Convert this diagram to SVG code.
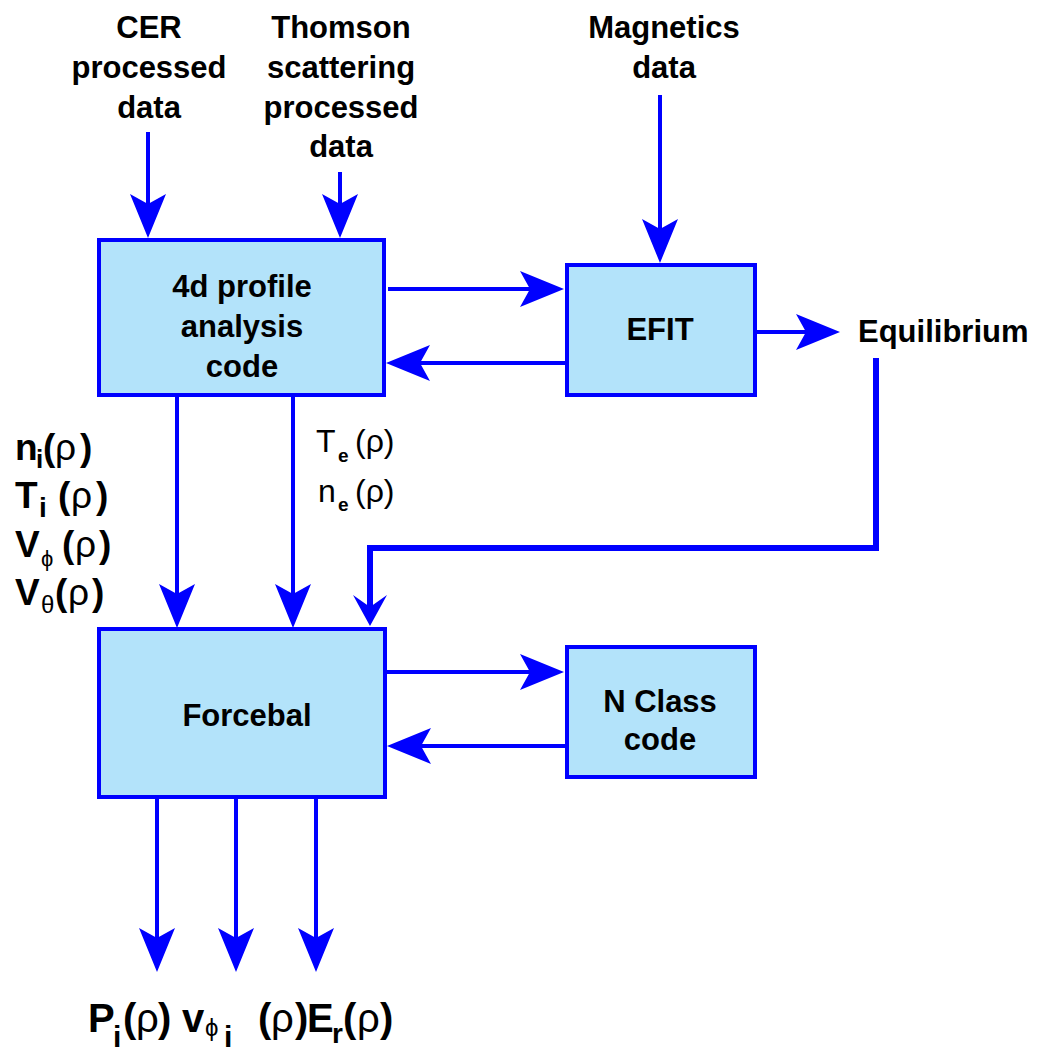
<svg xmlns="http://www.w3.org/2000/svg" width="1045" height="1055" viewBox="0 0 1045 1055">
  <style>
    .box { fill: #B3E3FA; stroke: #0000FF; stroke-width: 4; }
    .t { font-family: "Liberation Sans", Arial, sans-serif; font-weight: bold; font-size: 31px; fill: #000; text-anchor: middle; }
    .lbl { font-family: "Liberation Sans", Arial, sans-serif; font-weight: bold; fill: #000; }
    .thin { font-family: "Liberation Sans", Arial, sans-serif; font-weight: normal; font-size: 32px; fill: #000; }
    .g { font-weight: normal; }
    .wire { stroke: #0000FF; stroke-width: 4; fill: none; }
    .wire-heavy { stroke: #0000FF; stroke-width: 6; fill: none; }
  </style>
  <defs>
    <!-- barbed arrowhead: tip sits 20px beyond the end of the line -->
    <marker id="ah" markerUnits="userSpaceOnUse" viewBox="-26 -20 48 40" markerWidth="48" markerHeight="40" refX="0" refY="0" orient="auto">
      <path d="M20,0 L-24,-18 L-14,0 L-24,18 Z" fill="#0000FF"/>
    </marker>
    <!-- narrower chevron head for the equilibrium feed -->
    <marker id="ah2" markerUnits="userSpaceOnUse" viewBox="-18 -20 36 40" markerWidth="36" markerHeight="40" refX="0" refY="0" orient="auto">
      <path d="M16,0 L-15,-17 L-3,0 L-15,17 Z" fill="#0000FF"/>
    </marker>
  </defs>

  <rect width="1045" height="1055" fill="#FFFFFF"/>

  <!-- data sources -->
  <g id="cer-data">
    <text class="t" x="149" y="38">CER</text>
    <text class="t" x="149" y="78">processed</text>
    <text class="t" x="149" y="118">data</text>
  </g>
  <g id="thomson-data">
    <text class="t" x="341" y="38">Thomson</text>
    <text class="t" x="341" y="78">scattering</text>
    <text class="t" x="341" y="118">processed</text>
    <text class="t" x="341" y="157">data</text>
  </g>
  <g id="magnetics-data">
    <text class="t" x="664" y="38">Magnetics</text>
    <text class="t" x="664" y="78">data</text>
  </g>

  <!-- processing blocks -->
  <g id="profile-code">
    <rect class="box" x="99" y="240" width="285" height="155"/>
    <text class="t" x="242" y="297">4d profile</text>
    <text class="t" x="242" y="337">analysis</text>
    <text class="t" x="242" y="377">code</text>
  </g>
  <g id="efit">
    <rect class="box" x="567" y="265" width="188" height="130"/>
    <text class="t" x="660" y="340">EFIT</text>
  </g>
  <g id="equilibrium">
    <text class="lbl" x="858" y="342" font-size="31">Equilibrium</text>
  </g>
  <g id="forcebal">
    <rect class="box" x="99" y="629" width="286" height="168"/>
    <text class="t" x="247" y="726">Forcebal</text>
  </g>
  <g id="nclass">
    <rect class="box" x="567" y="647" width="188" height="130"/>
    <text class="t" x="660" y="712">N Class</text>
    <text class="t" x="660" y="750">code</text>
  </g>

  <!-- connectors -->
  <g id="connectors">
    <line class="wire" x1="148" y1="132" x2="148" y2="218" marker-end="url(#ah)"/>
    <line class="wire" x1="340" y1="172" x2="340" y2="218" marker-end="url(#ah)"/>
    <line class="wire" x1="660" y1="95" x2="660" y2="243" marker-end="url(#ah)"/>
    <line class="wire" x1="388" y1="289" x2="544" y2="289" marker-end="url(#ah)"/>
    <line class="wire" x1="565" y1="363" x2="406" y2="363" marker-end="url(#ah)"/>
    <line class="wire" x1="757" y1="332" x2="820" y2="332" marker-end="url(#ah)"/>
    <line class="wire" x1="177" y1="396" x2="177" y2="608" marker-end="url(#ah)"/>
    <line class="wire" x1="293" y1="396" x2="293" y2="608" marker-end="url(#ah)"/>
    <polyline class="wire-heavy" points="876,358 876,548 370,548 370,610" marker-end="url(#ah2)"/>
    <line class="wire" x1="387" y1="672" x2="544" y2="672" marker-end="url(#ah)"/>
    <line class="wire" x1="565" y1="746" x2="407" y2="746" marker-end="url(#ah)"/>
    <line class="wire" x1="157" y1="797" x2="157" y2="952" marker-end="url(#ah)"/>
    <line class="wire" x1="236" y1="797" x2="236" y2="952" marker-end="url(#ah)"/>
    <line class="wire" x1="316" y1="797" x2="316" y2="952" marker-end="url(#ah)"/>
  </g>

  <!-- ion profiles into Forcebal -->
  <g id="ion-profiles" font-size="37">
    <text class="lbl" y="460"><tspan x="15">n</tspan><tspan x="36" y="468" font-size="26">i</tspan><tspan x="43" y="460">(</tspan><tspan class="g" x="55">ρ</tspan><tspan x="80">)</tspan></text>
    <text class="lbl" y="508"><tspan x="15">T</tspan><tspan x="39" y="517" font-size="28">i</tspan><tspan x="58" y="508">(</tspan><tspan class="g" x="71">ρ</tspan><tspan x="96">)</tspan></text>
    <text class="lbl" y="557"><tspan x="15">V</tspan><tspan class="g" x="41" y="566" font-size="22">ϕ</tspan><tspan x="62" y="557">(</tspan><tspan class="g" x="75">ρ</tspan><tspan x="99">)</tspan></text>
    <text class="lbl" y="605"><tspan x="15">V</tspan><tspan class="g" x="41" y="613" font-size="24">θ</tspan><tspan x="55" y="605">(</tspan><tspan class="g" x="68">ρ</tspan><tspan x="92">)</tspan></text>
  </g>

  <!-- electron profiles into Forcebal -->
  <g id="electron-profiles">
    <text class="thin" y="452"><tspan x="316">T</tspan><tspan x="338" y="462" font-size="19" font-weight="bold">e</tspan><tspan x="355" y="452">(ρ)</tspan></text>
    <text class="thin" y="502"><tspan x="318">n</tspan><tspan x="338" y="511" font-size="19" font-weight="bold">e</tspan><tspan x="355" y="502">(ρ)</tspan></text>
  </g>

  <!-- Forcebal outputs -->
  <g id="outputs">
    <text class="lbl" font-size="40" y="1032"><tspan x="88">P</tspan><tspan x="113" y="1047" font-size="30">i</tspan><tspan x="123" y="1032">(</tspan><tspan class="g" x="136">ρ</tspan><tspan x="158">)</tspan><tspan x="182">v</tspan><tspan class="g" x="205" y="1036" font-size="24">ϕ</tspan><tspan x="224" y="1047" font-size="30">i</tspan><tspan x="258" y="1032">(</tspan><tspan class="g" x="271">ρ</tspan><tspan x="295">)</tspan><tspan x="307">E</tspan><tspan x="332" y="1043" font-size="28">r</tspan><tspan x="343" y="1032">(</tspan><tspan class="g" x="357">ρ</tspan><tspan x="380">)</tspan></text>
  </g>
</svg>
